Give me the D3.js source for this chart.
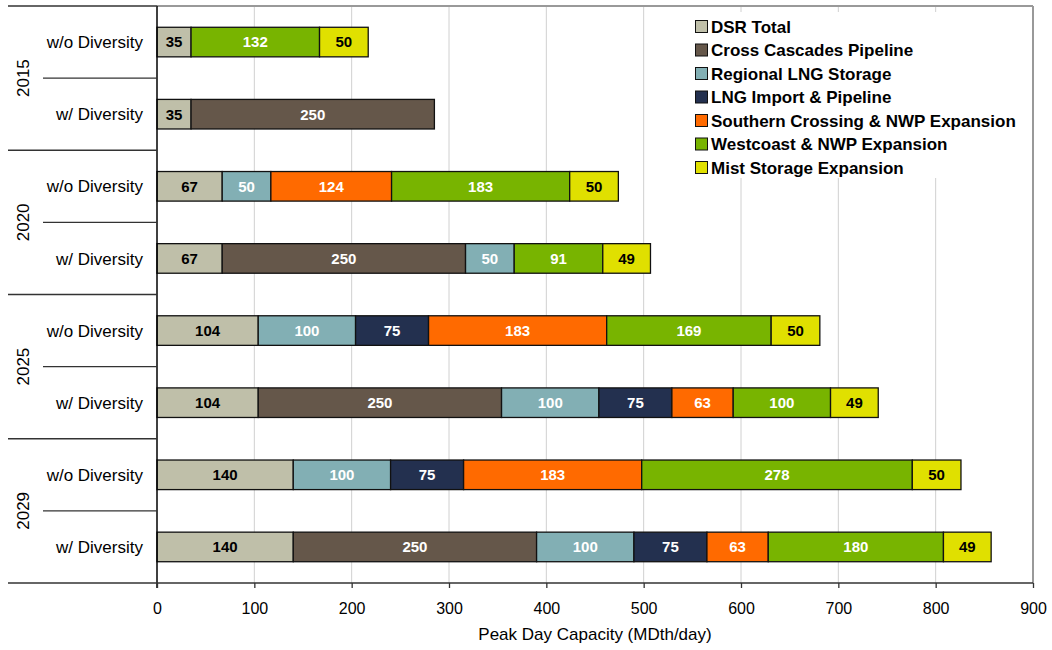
<!DOCTYPE html>
<html>
<head>
<meta charset="utf-8">
<script src="https://cdn.jsdelivr.net/npm/d3@7"></script>
<style>
  html, body { margin: 0; padding: 0; background: #fff; }
  svg { display: block; font-family: "Liberation Sans", Arial, sans-serif; }
</style>
</head>
<body>
<svg id="chart" width="1052" height="650"></svg>
<script>
// Peak day capacity portfolios by year and scenario
const years = ["2015", "2020", "2025", "2029"];
const scenarios = ["w/o Diversity", "w/ Diversity"];
const seriesNames = [
  "DSR Total",
  "Cross Cascades Pipeline",
  "Regional LNG Storage",
  "LNG Import & Pipeline",
  "Southern Crossing & NWP Expansion",
  "Westcoast & NWP Expansion",
  "Mist Storage Expansion"
];
const seriesColors = ["#bfbfa9", "#65574a", "#82afb4", "#23304f", "#ff6a00", "#78b400", "#e0e000"];
const labelColors = ["#000", "#fff", "#fff", "#fff", "#fff", "#fff", "#000"];

// one value per row: 2015 w/o, 2015 w/, 2020 w/o, 2020 w/, 2025 w/o, 2025 w/, 2029 w/o, 2029 w/
const dsrTotal        = [35, 35, 67, 67, 104, 104, 140, 140];
const crossCascades   = [0, 250, 0, 250, 0, 250, 0, 250];
const regionalLng     = [0, 0, 50, 50, 100, 100, 100, 100];
const lngImport       = [0, 0, 0, 0, 75, 75, 75, 75];
const southernCross   = [0, 0, 124, 0, 183, 63, 183, 63];
const westcoast       = [132, 0, 183, 91, 169, 100, 278, 180];
const mistStorage     = [50, 0, 50, 49, 50, 49, 50, 49];
const xTicks = [0, 100, 200, 300, 400, 500, 600, 700, 800, 900];

const seriesValues = [dsrTotal, crossCascades, regionalLng, lngImport, southernCross, westcoast, mistStorage];

(function draw() {
  const rows = [];
  years.forEach(yr => scenarios.forEach(s => rows.push({ key: yr + "|" + s, year: yr, scenario: s })));
  rows.forEach((r, i) => seriesNames.forEach((n, j) => { r[n] = seriesValues[j][i]; }));

  const svg = d3.select("#chart");
  const pLeft = 157, pRight = 1033, pTop = 6, pBottom = 583;

  const x = d3.scaleLinear().domain([0, 900]).range([pLeft, pRight]);
  const y = d3.scaleBand().domain(rows.map(r => r.key)).range([pTop, pBottom])
    .paddingInner(0.59).paddingOuter(0.295);

  // vertical gridlines
  svg.append("g").selectAll("line").data(xTicks.slice(1)).join("line")
    .attr("x1", d => x(d)).attr("x2", d => x(d))
    .attr("y1", pTop).attr("y2", pBottom)
    .attr("stroke", "#d0d0d0").attr("stroke-width", 1);

  // plot frame (top and right)
  svg.append("line").attr("x1", pLeft).attr("x2", pRight).attr("y1", pTop).attr("y2", pTop)
    .attr("stroke", "#999").attr("stroke-width", 2);
  svg.append("line").attr("x1", pRight).attr("x2", pRight).attr("y1", pTop).attr("y2", pBottom)
    .attr("stroke", "#999").attr("stroke-width", 2);

  // stacked bars
  const layers = d3.stack().keys(seriesNames)(rows);
  const gBars = svg.append("g");
  layers.forEach((layer, li) => {
    const segs = layer.filter(d => d[1] - d[0] > 0);
    gBars.selectAll(null).data(segs).join("rect")
      .attr("x", d => x(d[0]))
      .attr("y", d => y(d.data.key))
      .attr("width", d => x(d[1]) - x(d[0]))
      .attr("height", y.bandwidth())
      .attr("fill", seriesColors[li])
      .attr("stroke", "#111").attr("stroke-width", 1.3);
    gBars.selectAll(null).data(segs).join("text")
      .attr("x", d => (x(d[0]) + x(d[1])) / 2)
      .attr("y", d => y(d.data.key) + y.bandwidth() / 2)
      .attr("dy", "0.36em")
      .attr("text-anchor", "middle")
      .attr("font-size", 15).attr("font-weight", "bold")
      .attr("fill", labelColors[li])
      .text(d => d[1] - d[0]);
  });

  // left axis line
  svg.append("line").attr("x1", pLeft).attr("x2", pLeft).attr("y1", pTop).attr("y2", pBottom + 5)
    .attr("stroke", "#000").attr("stroke-width", 1.5);

  // bottom axis
  const xAxis = d3.axisBottom(x).tickValues(xTicks).tickSize(5).tickSizeOuter(0);
  const gx = svg.append("g").attr("transform", `translate(0,${pBottom})`).call(xAxis);
  gx.select(".domain").remove();
  gx.selectAll(".tick line").attr("stroke", "#333").attr("stroke-width", 1.3);
  gx.selectAll(".tick text").attr("font-size", 16).attr("fill", "#000").attr("dy", "1.45em")
    .attr("font-family", "'Liberation Sans', Arial, sans-serif");
  svg.append("line").attr("x1", 8).attr("x2", pRight).attr("y1", pBottom).attr("y2", pBottom)
    .attr("stroke", "#333").attr("stroke-width", 1.5);

  svg.append("text").attr("x", x(450)).attr("y", 640).attr("text-anchor", "middle")
    .attr("font-size", 17).text("Peak Day Capacity (MDth/day)");

  // grouped category axis on the left
  const step = y.step();
  years.forEach((yr, i) => {
    const g0 = pTop + i * 2 * step;
    svg.append("line").attr("x1", 8).attr("x2", pLeft).attr("y1", g0).attr("y2", g0)
      .attr("stroke", "#333").attr("stroke-width", 1.3);
    svg.append("line").attr("x1", 43).attr("x2", pLeft).attr("y1", g0 + step).attr("y2", g0 + step)
      .attr("stroke", "#333").attr("stroke-width", 1.3);
    svg.append("text")
      .attr("transform", `translate(29,${g0 + step}) rotate(-90)`)
      .attr("text-anchor", "middle").attr("font-size", 17).text(yr);
  });
  rows.forEach(r => {
    svg.append("text").attr("x", 143).attr("y", y(r.key) + y.bandwidth() / 2).attr("dy", "0.36em")
      .attr("text-anchor", "end").attr("font-size", 17).text(r.scenario);
  });

  // legend
  const lg = svg.append("g");
  lg.append("rect").attr("x", 688).attr("y", 12).attr("width", 340).attr("height", 166).attr("fill", "#fff");
  seriesNames.forEach((n, i) => {
    const ly = 26.5 + i * 23.5;
    lg.append("rect").attr("x", 695.5).attr("y", ly - 6).attr("width", 12).attr("height", 12)
      .attr("fill", seriesColors[i]).attr("stroke", "#111").attr("stroke-width", 1);
    lg.append("text").attr("x", 711).attr("y", ly).attr("dy", "0.36em")
      .attr("font-size", 17).attr("font-weight", "bold").text(n);
  });
})();
</script>
</body>
</html>
